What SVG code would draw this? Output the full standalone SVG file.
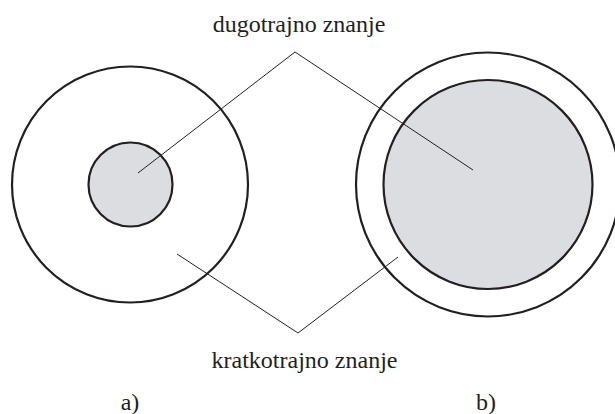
<svg xmlns="http://www.w3.org/2000/svg" width="615" height="414" viewBox="0 0 615 414">
<style>
.outer{fill:none;stroke:#231f20;stroke-width:2.2}
.inner{fill:#dcdde0;stroke:#231f20;stroke-width:2.2}
.lead{fill:none;stroke:#231f20;stroke-width:1}
.lbl{font-family:'Liberation Serif',serif;font-size:24px;fill:#231f20;text-anchor:middle}
</style>
<rect width="615" height="414" fill="#ffffff"/>
<g id="node-a">
<circle class="outer" cx="130" cy="184.5" r="118"/>
<circle class="inner" cx="130.5" cy="184.5" r="42"/>
</g>
<g id="node-b">
<circle class="outer" cx="488" cy="184.5" r="132"/>
<circle class="inner" cx="488" cy="184.5" r="104.5"/>
</g>
<g id="connectors">
<polyline class="lead" points="138,173 295,52 473,170"/>
<polyline class="lead" points="177,254 298,333 398,257"/>
</g>
<g id="label-long"><text class="lbl" x="299" y="32" font-family="Liberation Serif, serif">dugotrajno znanje</text></g>
<g id="label-short"><text class="lbl" x="304.5" y="368" font-family="Liberation Serif, serif">kratkotrajno znanje</text></g>
<g id="label-a"><text class="lbl" x="130" y="410" font-family="Liberation Serif, serif">a)</text></g>
<g id="label-b"><text class="lbl" x="486" y="410" font-family="Liberation Serif, serif">b)</text></g>
</svg>
